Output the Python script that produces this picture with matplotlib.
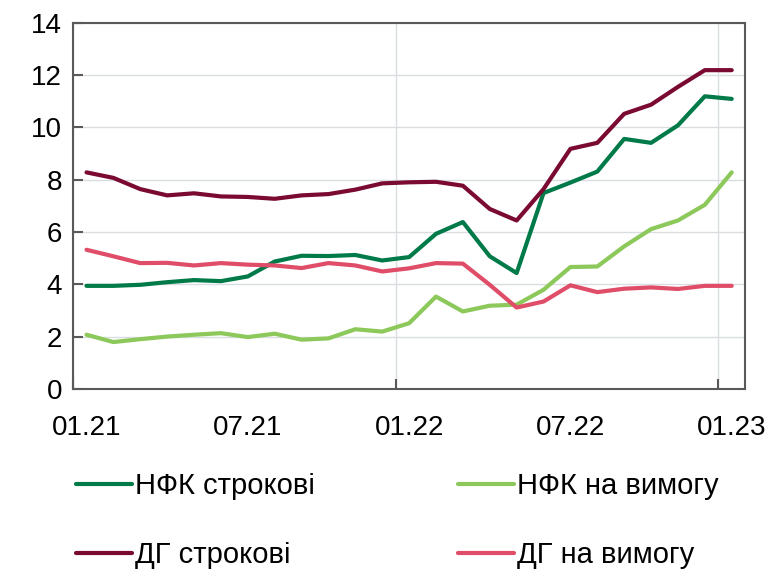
import matplotlib.pyplot as plt
from matplotlib.ticker import FixedLocator, NullFormatter

# Monthly rates, 01.21 .. 01.23 (25 months)
months = list(range(25))
nfk_term = [3.94, 3.94, 3.98, 4.08, 4.16, 4.12, 4.30, 4.87, 5.09, 5.08, 5.12, 4.91,
            5.04, 5.93, 6.38, 5.07, 4.43, 7.49, 7.89, 8.31, 9.56, 9.41, 10.08, 11.19, 11.09]
nfk_demand = [2.07, 1.79, 1.90, 2.00, 2.07, 2.13, 1.98, 2.11, 1.88, 1.93, 2.28, 2.19,
              2.51, 3.53, 2.96, 3.18, 3.22, 3.79, 4.66, 4.68, 5.45, 6.11, 6.44, 7.04, 8.28]
hh_term = [8.28, 8.07, 7.64, 7.40, 7.48, 7.36, 7.34, 7.27, 7.40, 7.45, 7.62, 7.86,
           7.90, 7.92, 7.77, 6.88, 6.44, 7.64, 9.18, 9.41, 10.52, 10.87, 11.55, 12.19, 12.19]
hh_demand = [5.32, 5.07, 4.81, 4.82, 4.72, 4.81, 4.75, 4.72, 4.62, 4.81, 4.72, 4.49,
             4.61, 4.81, 4.79, 3.98, 3.11, 3.34, 3.96, 3.70, 3.83, 3.88, 3.82, 3.94, 3.94]

year_starts = [0, 12, 24]
label_months = [0, 6, 12, 18, 24]
month_labels = ['01.21', '07.21', '01.22', '07.22', '01.23']

series = [
    ('НФК строкові', nfk_term, '#007A48'),
    ('НФК на вимогу', nfk_demand, '#8CC85A'),
    ('ДГ строкові', hh_term, '#7A0A32'),
    ('ДГ на вимогу', hh_demand, '#E04D68'),
]

plt.rcParams['font.family'] = ['Liberation Sans', 'DejaVu Sans']

fig = plt.figure(figsize=(7.69, 5.71), dpi=100)
ax = fig.add_axes([0.095, 0.319, 0.874, 0.641])

# each month sits in the middle of its slot
x = [m + 0.5 for m in months]
lines = {}
for label, vals, color in series:
    lines[label], = ax.plot(x, vals, color=color, lw=3, label=label, solid_capstyle='round')

ax.set_xlim(0, 25)
ax.set_ylim(0, 14)
ax.set_yticks(range(0, 15, 2))

# tick marks and grid at year boundaries, labels centred on the months
ax.xaxis.set_major_locator(FixedLocator(year_starts))
ax.xaxis.set_major_formatter(NullFormatter())
ax.xaxis.set_minor_locator(FixedLocator([m + 0.5 for m in label_months]))
ax.set_xticklabels(month_labels, minor=True)

ax.tick_params(axis='x', which='major', direction='in', length=7, width=1.5,
               color='#595959')
ax.tick_params(axis='x', which='minor', length=0, labelsize=20, pad=19)
ax.tick_params(axis='y', direction='in', length=7, width=1.5, color='#595959',
               labelsize=20, pad=8)

ax.grid(axis='y', color='#D9DCE0', lw=1)
ax.grid(axis='x', which='major', color='#D9DCE0', lw=1)
ax.set_axisbelow(True)
for s in ax.spines.values():
    s.set_color('#595959')
    s.set_linewidth(1.5)

# legend rows: НФК on top, ДГ below (columns fill first)
order = ['НФК строкові', 'ДГ строкові', 'НФК на вимогу', 'ДГ на вимогу']
fig.legend([lines[k] for k in order], order, loc='upper left',
           bbox_to_anchor=(0.065, 0.219), ncol=2, frameon=False, fontsize=21,
           handlelength=1.92, handletextpad=0.1, columnspacing=4.9, labelspacing=1.4)

fig.savefig('out.png', dpi=100)
